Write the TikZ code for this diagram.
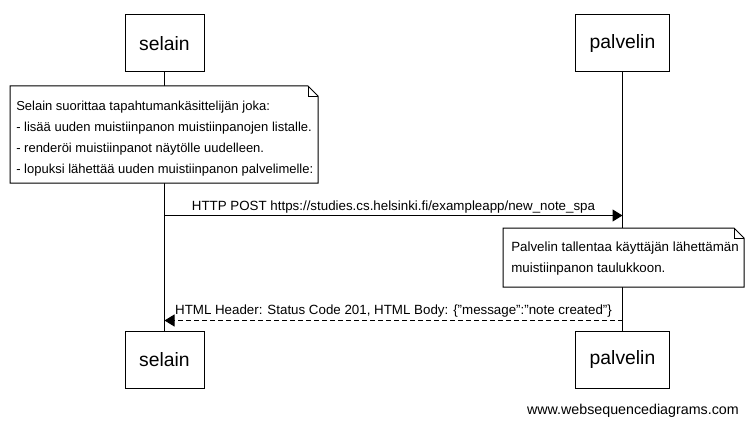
\documentclass[tikz,border=0pt]{standalone}
\usepackage{fontspec}
\setmainfont{Liberation Sans}
\usetikzlibrary{arrows.meta}
\begin{document}
\begin{tikzpicture}[x=0.75pt,y=-0.75pt,
  actor/.style={draw,line width=0.75pt,minimum height=42.75pt,inner sep=0pt,font=\fontsize{14.5}{16}\selectfont},
  msg/.style={line width=0.75pt,-{Triangle[length=7.5pt,width=9pt]}},
  lbl/.style={font=\fontsize{10}{12}\selectfont,inner sep=0pt,anchor=base},
  notetext/.style={font=\fontsize{9.75}{12}\selectfont,inner sep=0pt,anchor=base west},
  notebox/.style={fill=white,draw,line width=0.75pt}]
\useasboundingbox (0,0) rectangle (748,424);
% participants
\node[actor,minimum width=59.25pt] (s1) at (164.5,43.5) {selain};
\node[actor,minimum width=70.5pt] (p1) at (622.5,43.5) {palvelin};
\node[actor,minimum width=59.25pt] (s2) at (164.5,359.5) {selain};
\node[actor,minimum width=70.5pt] (p2) at (622.5,359.5) {palvelin};
\draw[line width=0.75pt] (s1.south) -- (s2.north);
\draw[line width=0.75pt] (p1.south) -- (p2.north);
% note 1
\path[notebox] (10,86) -- (308,86) -- (318,96) -- (318,183) -- (10,183) -- cycle;
\draw[line width=0.5pt] (308,86) -- (308,96) -- (318,96);
\node[notetext] (n1a) at (16,110.5) {Selain suorittaa tapahtumankäsittelijän joka:};
\node[notetext] (n1b) at (16,131.5) {- lisää uuden muistiinpanon muistiinpanojen listalle.};
\node[notetext] (n1c) at (16,152.5) {- renderöi muistiinpanot näytölle uudelleen.};
\node[notetext] (n1d) at (16,173.5) {- lopuksi lähettää uuden muistiinpanon palvelimelle:};
% message 1
\coordinate (a1) at (164.5,215.5);
\coordinate (b1) at (622.5,215.5);
\draw[msg] (a1) -- (b1);
\node[lbl] (m1) at (393.5,210) {HTTP POST https://studies.cs.helsinki.fi/exampleapp/new\_note\_spa};
% note 2
\path[notebox] (503,228) -- (734,228) -- (744,238) -- (744,287) -- (503,287) -- cycle;
\draw[line width=0.5pt] (734,228) -- (734,238) -- (744,238);
\node[notetext,font=\fontsize{10}{12}\selectfont] (n2a) at (511,251.5) {Palvelin tallentaa käyttäjän lähettämän};
\node[notetext,font=\fontsize{10}{12}\selectfont] (n2b) at (511,272.5) {muistiinpanon taulukkoon.};
% message 2
\coordinate (a2) at (622.5,320.5);
\coordinate (b2) at (164.5,320.5);
\draw[msg,dash pattern=on 3.75pt off 2.25pt] (a2) -- (b2);
\node[lbl] (m2) at (393.5,314) {HTML Header: Status Code 201, HTML Body: \{"message":"note created"\}};
% watermark
\node[font=\fontsize{10.7}{12}\selectfont,anchor=base east,inner sep=0pt] (wm) at (739,414.5) {www.websequencediagrams.com};
\end{tikzpicture}
\end{document}
